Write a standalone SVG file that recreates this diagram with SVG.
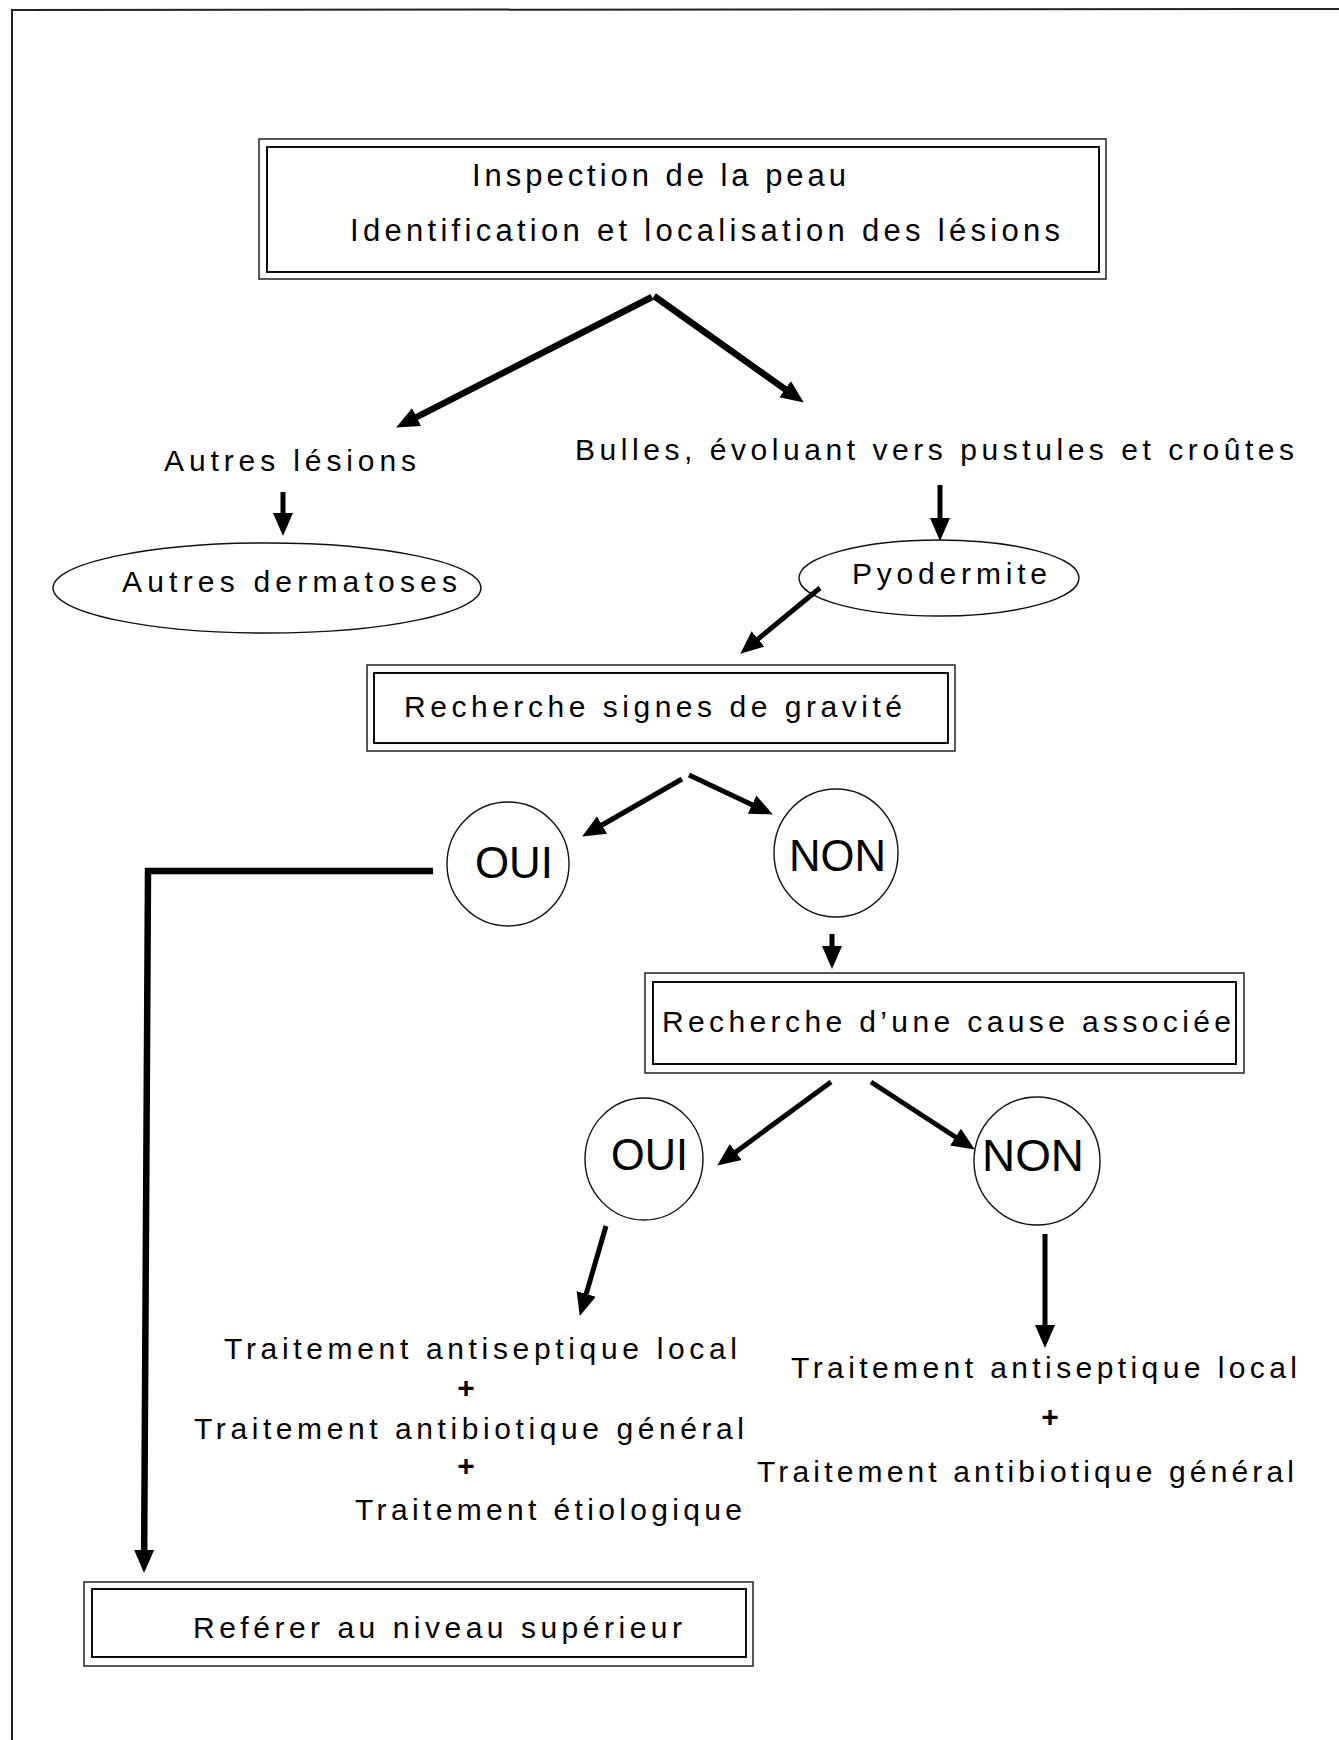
<svg xmlns="http://www.w3.org/2000/svg" width="1339" height="1740" viewBox="0 0 1339 1740">
<style>
  .bg { fill: #ffffff; }
  .outer { fill: none; stroke: #222; stroke-width: 1.5; }
  .inner { fill: none; stroke: #000; stroke-width: 1.9; }
  .shape { fill: none; stroke: #111; stroke-width: 1.4; }
  .t { font-family: "Liberation Sans", Arial, sans-serif; font-size: 30px; fill: #000; }
  .big { font-family: "Liberation Sans", Arial, sans-serif; font-size: 45px; fill: #000; }
  .plus { font-family: "Liberation Sans", Arial, sans-serif; font-size: 30px; font-weight: bold; fill: #000; text-anchor: middle; }
  .arrow { fill: none; stroke: #000; stroke-width: 6.5; marker-end: url(#head); }
  .thin { stroke-width: 5; }
  .border { fill: none; stroke: #222; stroke-width: 2; }
</style>
<defs>
  <marker id="head" markerUnits="userSpaceOnUse" markerWidth="24" markerHeight="22" viewBox="0 0 24 22" refX="10" refY="11" orient="auto">
    <path d="M0,1 L23,11 L0,21 z" fill="#000"/>
  </marker>
</defs>
<rect class="bg" x="0" y="0" width="1339" height="1740"/>
<g id="page-border">
  <path class="border" d="M12,1740 L12,10 L1339,9"/>
</g>

<g id="node-inspection">
  <rect class="outer" x="259" y="139" width="847" height="140"/>
  <rect class="inner" x="267" y="147" width="832" height="125"/>
  <text class="t" style="font-size:31px" x="472" y="186" textLength="374" lengthAdjust="spacing">Inspection de la peau</text>
  <text class="t" style="font-size:31px" x="350" y="241" textLength="710" lengthAdjust="spacing">Identification et localisation des lésions</text>
</g>

<g id="node-autres-lesions">
  <text class="t" x="164" y="471" textLength="252" lengthAdjust="spacing">Autres lésions</text>
</g>

<g id="node-bulles">
  <text class="t" x="575" y="460" textLength="719" lengthAdjust="spacing">Bulles, évoluant vers pustules et croûtes</text>
</g>

<g id="node-autres-dermatoses">
  <ellipse class="shape" cx="267" cy="588" rx="214" ry="45"/>
  <text class="t" x="122" y="592" textLength="335" lengthAdjust="spacing">Autres dermatoses</text>
</g>

<g id="node-pyodermite">
  <ellipse class="shape" cx="939" cy="578" rx="140" ry="38"/>
  <text class="t" x="852" y="584" textLength="195" lengthAdjust="spacing">Pyodermite</text>
</g>

<g id="node-gravite">
  <rect class="outer" x="367" y="665" width="588" height="86"/>
  <rect class="inner" x="374" y="673" width="574" height="70"/>
  <text class="t" x="404" y="717" textLength="498" lengthAdjust="spacing">Recherche signes de gravité</text>
</g>

<g id="node-oui-1">
  <ellipse class="shape" cx="508" cy="864" rx="61" ry="62"/>
  <text class="big" x="475" y="878" textLength="78" lengthAdjust="spacingAndGlyphs">OUI</text>
</g>

<g id="node-non-1">
  <ellipse class="shape" cx="836" cy="853" rx="62" ry="64"/>
  <text class="big" x="789" y="871" textLength="97" lengthAdjust="spacingAndGlyphs">NON</text>
</g>

<g id="node-cause">
  <rect class="outer" x="645" y="973" width="599" height="100"/>
  <rect class="inner" x="653" y="982" width="583" height="82"/>
  <text class="t" x="662" y="1032" textLength="569" lengthAdjust="spacing">Recherche d’une cause associée</text>
</g>

<g id="node-oui-2">
  <ellipse class="shape" cx="644" cy="1159" rx="59" ry="61"/>
  <text class="big" x="611" y="1170" textLength="77" lengthAdjust="spacingAndGlyphs">OUI</text>
</g>

<g id="node-non-2">
  <ellipse class="shape" cx="1037" cy="1161" rx="63" ry="64"/>
  <text class="big" x="982" y="1171" textLength="102" lengthAdjust="spacingAndGlyphs">NON</text>
</g>

<g id="node-traitement-oui">
  <text class="t" x="224" y="1359" textLength="513" lengthAdjust="spacing">Traitement antiseptique local</text>
  <text class="plus" x="466" y="1398">+</text>
  <text class="t" x="194" y="1439" textLength="550" lengthAdjust="spacing">Traitement antibiotique général</text>
  <text class="plus" x="466" y="1476">+</text>
  <text class="t" x="355" y="1520" textLength="387" lengthAdjust="spacing">Traitement étiologique</text>
</g>

<g id="node-traitement-non">
  <text class="t" x="791" y="1378" textLength="506" lengthAdjust="spacing">Traitement antiseptique local</text>
  <text class="plus" x="1050" y="1427">+</text>
  <text class="t" x="757" y="1482" textLength="537" lengthAdjust="spacing">Traitement antibiotique général</text>
</g>

<g id="node-referer">
  <rect class="outer" x="84" y="1582" width="669" height="84"/>
  <rect class="inner" x="92" y="1589" width="654" height="68"/>
  <text class="t" x="193" y="1638" textLength="489" lengthAdjust="spacing">Reférer au niveau supérieur</text>
</g>

<g id="connectors">
  <line class="arrow" x1="652" y1="297" x2="407.7" y2="421.6"/>
  <line class="arrow" x1="654" y1="296" x2="793.2" y2="395"/>
  <line class="arrow thin" x1="283" y1="492" x2="283" y2="523"/>
  <line class="arrow thin" x1="940" y1="485" x2="940" y2="528"/>
  <line class="arrow thin" x1="820" y1="588" x2="750.3" y2="645.4"/>
  <line class="arrow thin" x1="682" y1="779" x2="593.4" y2="830"/>
  <line class="arrow thin" x1="689" y1="775" x2="761.1" y2="808.9"/>
  <polyline class="arrow" points="433,871 148,871 144.1,1560"/>
  <line class="arrow thin" x1="832" y1="934" x2="832" y2="956"/>
  <line class="arrow thin" x1="831" y1="1082" x2="727.7" y2="1157.9"/>
  <line class="arrow thin" x1="871" y1="1082" x2="963.9" y2="1142.5"/>
  <line class="arrow thin" x1="606" y1="1226" x2="583.4" y2="1303.5"/>
  <line class="arrow thin" x1="1045" y1="1234" x2="1045" y2="1335"/>
</g>
</svg>
